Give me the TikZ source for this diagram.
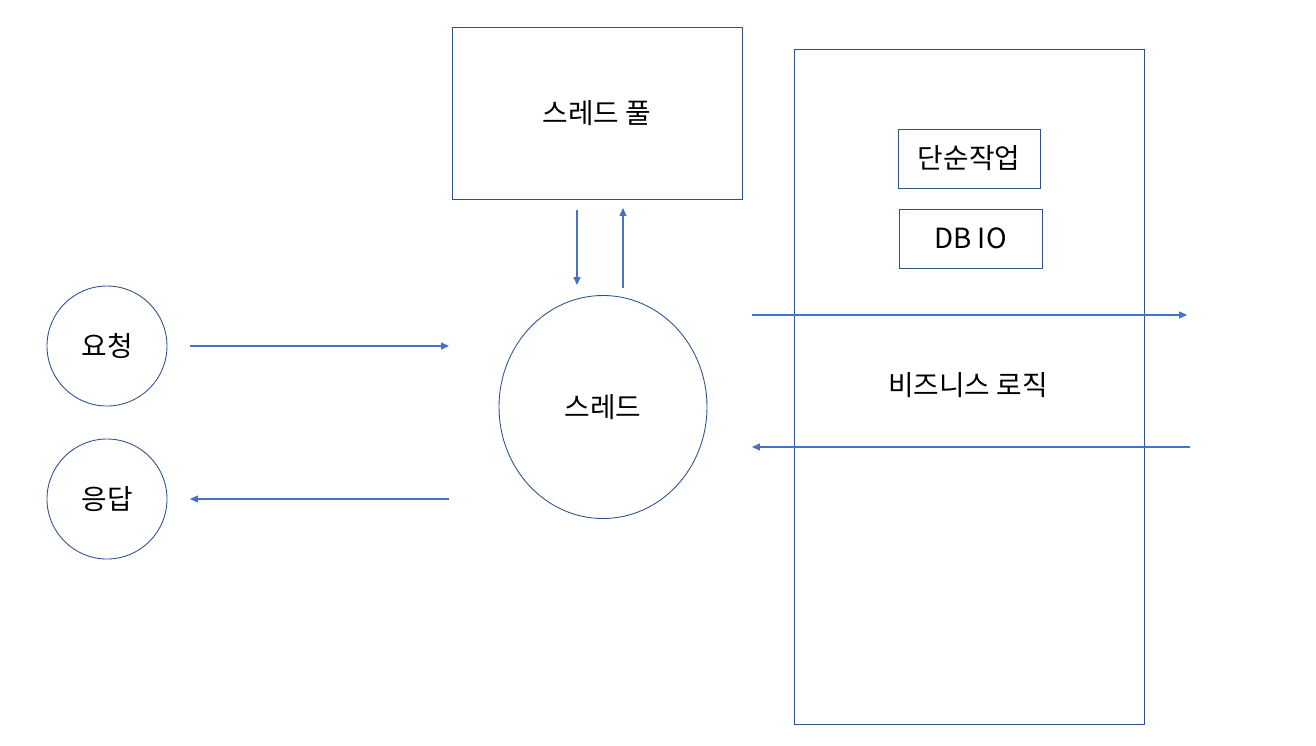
\documentclass[tikz,border=0pt]{standalone}
\usepackage{fontspec}
\setmainfont{Noto Sans CJK KR}
\usetikzlibrary{arrows.meta, shapes.geometric}
\definecolor{edge}{HTML}{2F528F}
\definecolor{flow}{HTML}{4472C4}
\tikzset{
  box/.style={draw=edge, line width=0.5pt, inner sep=0pt, font=\fontsize{15.8}{18}\selectfont},
  flowline/.style={draw=flow, line width=0.6pt, -{Triangle[length=4.5pt,width=4pt]}}
}

\begin{document}
\begin{tikzpicture}[x=0.2mm, y=-0.2mm]
  % pixel grid of the 1316x745 sketch, y grows downward (1px = 0.2mm)
  \useasboundingbox (0,0) rectangle (1316,745);
  \node[box, circle, minimum size=24mm] (req) at (107,346) {요청};
  \node[box, circle, minimum size=24mm] (resp) at (107,499) {응답};
  \node[box, ellipse, minimum width=41.6mm, minimum height=44.6mm] (thr) at (603,407) {스레드};
  \node[box, rectangle, minimum width=58mm, minimum height=34.4mm] (pool) at (597,113) {스레드 풀};
  \node[box, rectangle, minimum width=70mm, minimum height=135mm] (biz) at (969,386.5) {};
  \node[font=\fontsize{15.8}{18}\selectfont] (bizlbl) at (968,385) {비즈니스 로직};
  \node[box, rectangle, minimum width=28.4mm, minimum height=11.8mm] (simple) at (969,158.5) {단순작업};
  \node[box, rectangle, minimum width=28.6mm, minimum height=11.8mm] (dbio) at (970.5,238.5) {DB IO};
  % arrow end points (they stop short of the shapes)
  \coordinate (a1) at (190,346);
  \coordinate (a2) at (449,346);
  \coordinate (b1) at (449,499);
  \coordinate (b2) at (190,499);
  \coordinate (c1) at (577,210);
  \coordinate (c2) at (577,285);
  \coordinate (d1) at (623,288);
  \coordinate (d2) at (623,208);
  \coordinate (e1) at (752,315);
  \coordinate (e2) at (1187,315);
  \coordinate (f1) at (1190,447);
  \coordinate (f2) at (752,447);
  \draw[flowline] (a1) -- (a2);
  \draw[flowline] (b1) -- (b2);
  \draw[flowline] (c1) -- (c2);
  \draw[flowline] (d1) -- (d2);
  \draw[flowline] (e1) -- (e2);
  \draw[flowline] (f1) -- (f2);
\end{tikzpicture}
\end{document}
